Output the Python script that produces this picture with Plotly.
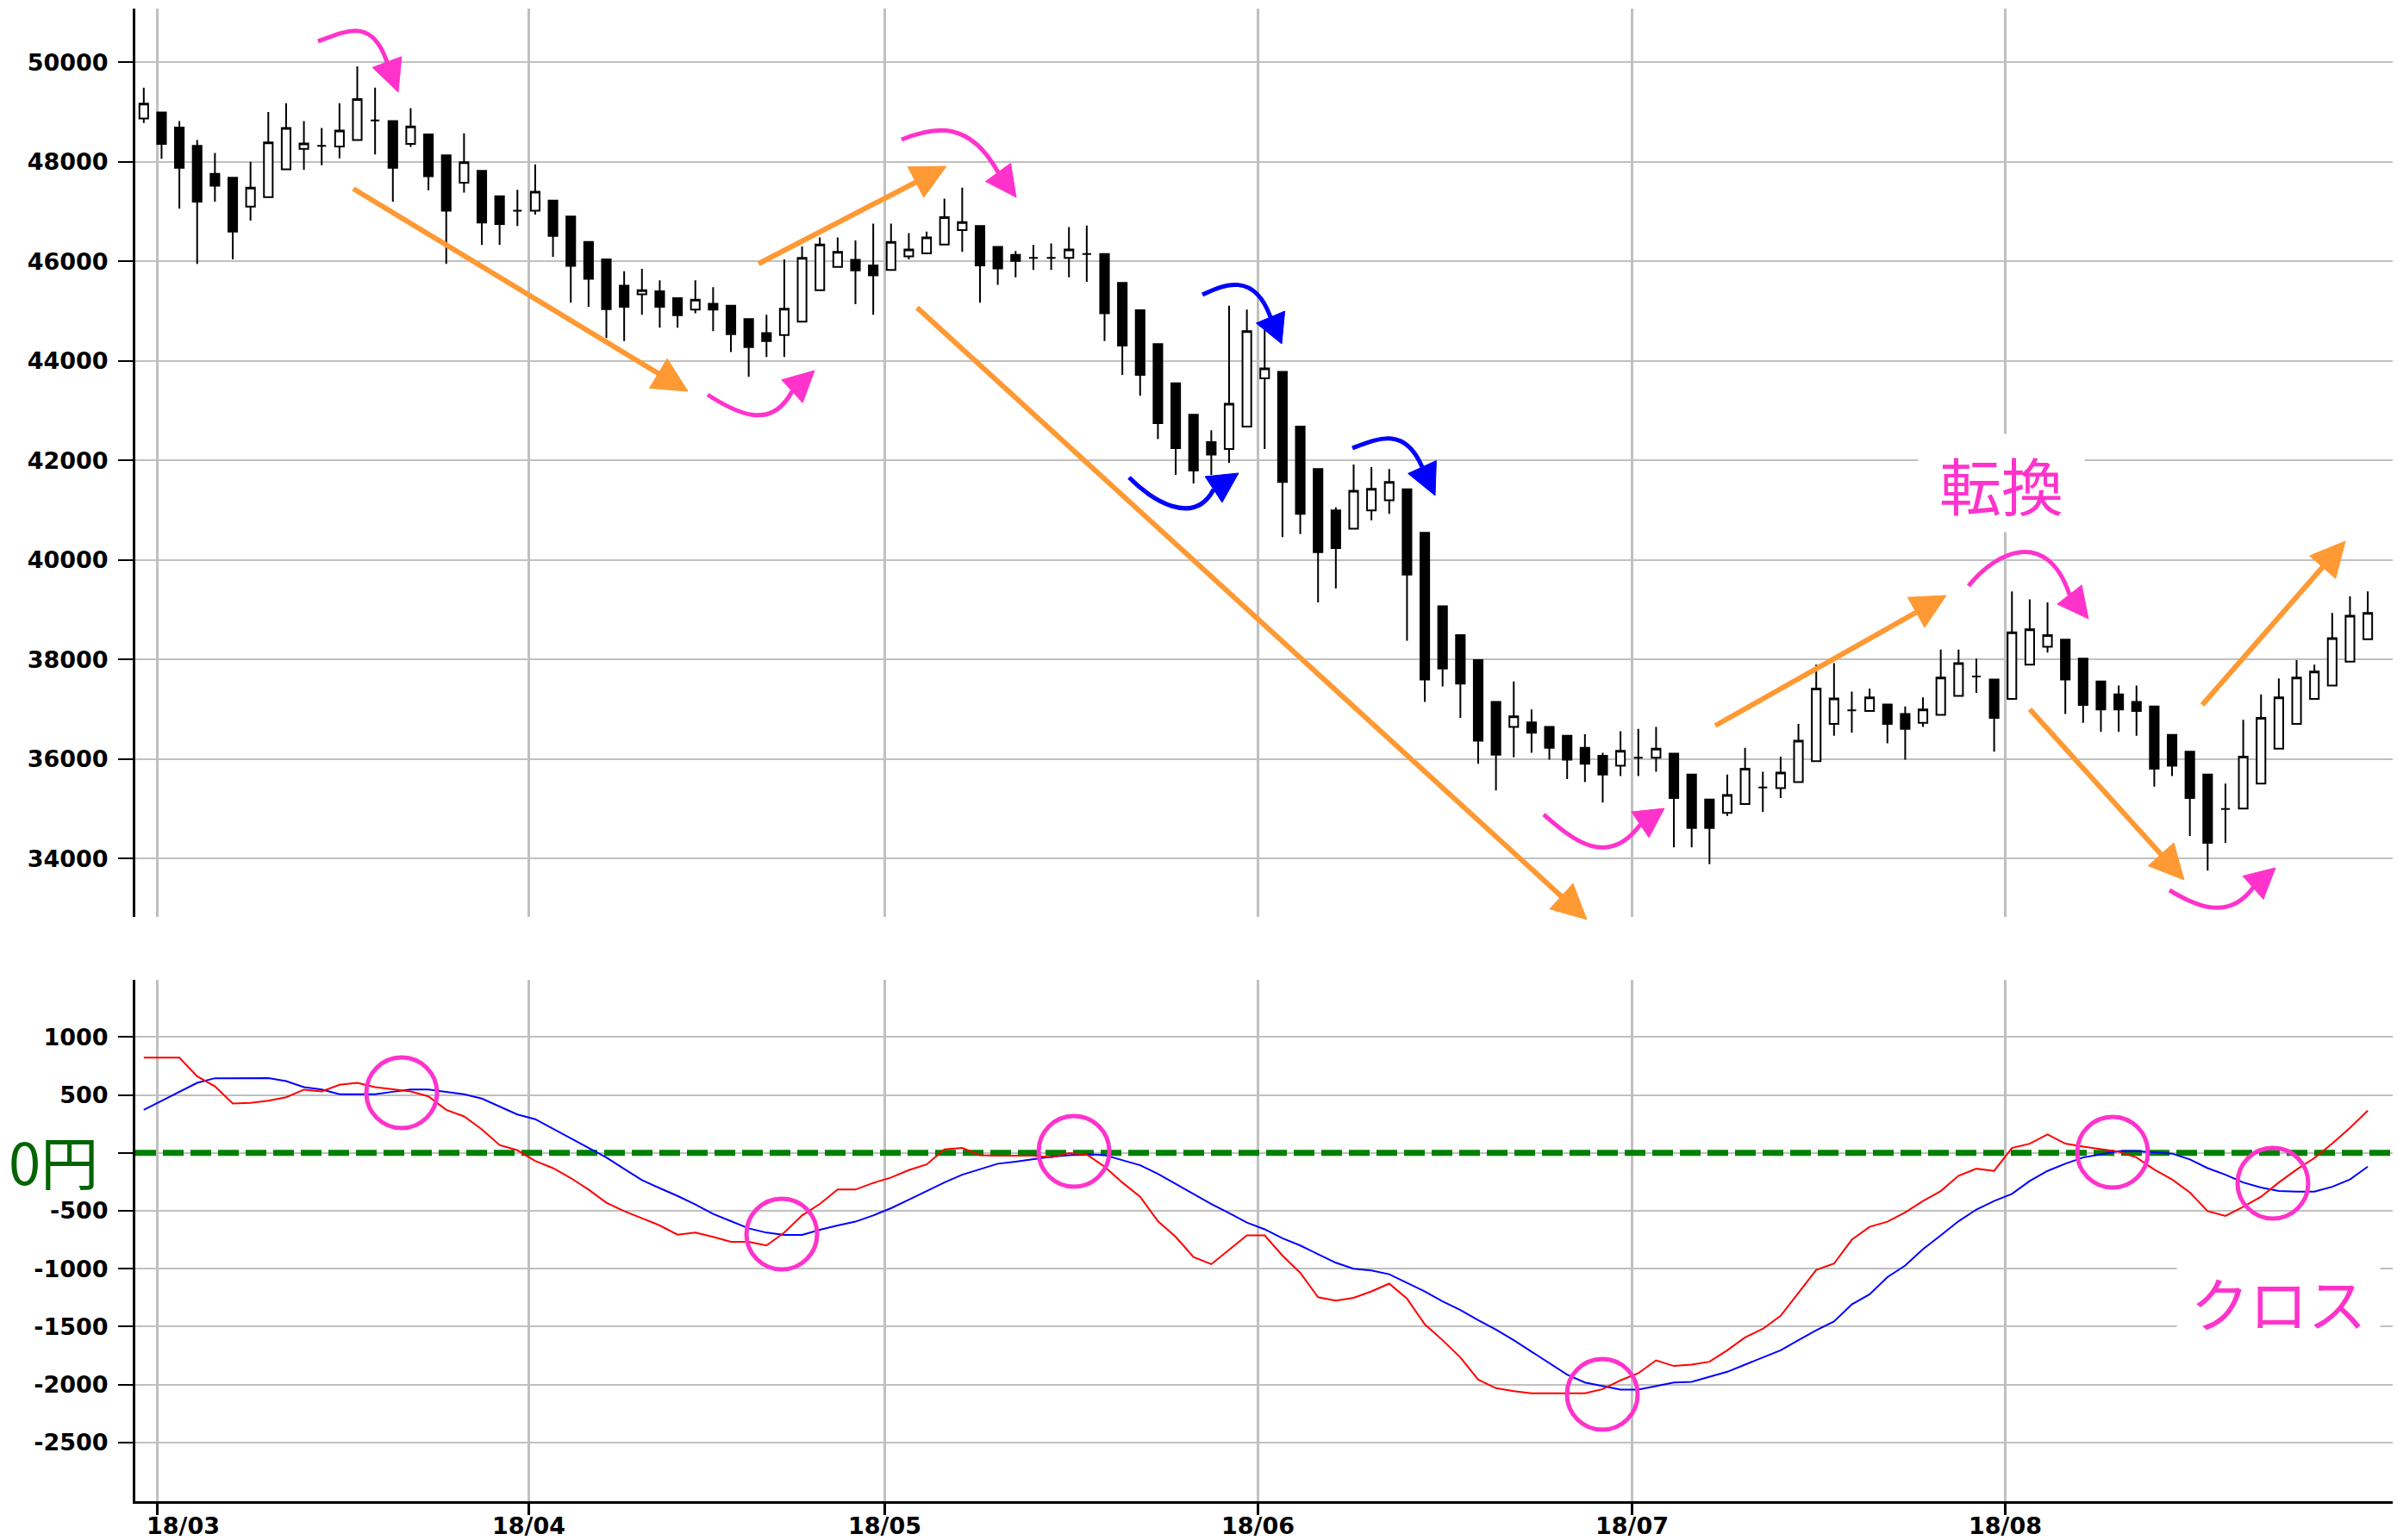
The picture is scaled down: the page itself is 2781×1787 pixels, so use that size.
import plotly.graph_objects as go

# ---------------- data ----------------
MONTH_LABELS = ["18/03", "18/04", "18/05", "18/06", "18/07", "18/08"]
MONTH_FIRST_CANDLE = [2, 23, 43, 64, 85, 106]   # index of first trading day of each month

OPEN = [48870,48990,48690,48320,47760,47680,47100,47290,47850,48260,
        48320,48310,48440,48830,48820,48360,48550,48130,47580,47820,
        47310,47020,47020,47220,46900,46390,46040,45510,45340,45400,
        45260,45030,45150,45110,44840,44560,44520,44790,45420,45890,
        46030,45920,45830,46100,46160,46340,46630,46710,46290,46130,
        46070,46070,46070,46150,46150,45570,45020,44340,43550,42920,
        42370,42230,42680,43650,43780,42680,41830,41000,40630,41000,
        41200,41420,40550,39070,38490,37990,37150,36650,36740,36650,
        36470,36230,36070,35870,36030,36030,36110,35690,35190,34920,
        35100,35430,35420,35540,35960,36710,36980,36970,37100,36910,
        36730,36890,37270,37660,37600,37210,37900,38260,38400,38020,
        37560,37300,37150,37060,36490,36150,35690,35000,35010,35510,
        36210,36710,37210,37480,37960,38410]
HIGH = [49490,48990,48820,48440,48180,47680,48000,49000,49180,48820,
        48680,49180,49920,49490,48820,49080,48550,48130,48570,47820,
        47310,47440,47950,47220,46900,46390,46040,45800,45850,45620,
        45260,45620,45480,45110,44840,44930,46040,46300,46480,46480,
        46420,46760,46760,46570,46600,47260,47480,46710,46290,46210,
        46330,46360,46690,46720,46150,45570,45020,44340,43550,42920,
        42610,45110,45030,44620,43780,42680,41830,41060,41920,41870,
        41830,41420,40550,39070,38490,37990,37150,37560,37000,36650,
        36470,36500,36130,36560,36610,36650,36110,35690,35190,35690,
        36230,35750,36050,36710,37900,37930,37360,37420,37100,37060,
        37240,38200,38200,38020,37600,39370,39210,39150,38400,38020,
        37560,37480,37480,37060,36490,36150,35690,35510,36790,37300,
        37620,37990,37900,38940,39270,39370]
LOW = [48780,48060,47060,45950,47200,46040,46820,47290,47850,47840,
       47930,48070,48440,48150,47200,48300,47430,45950,47380,46330,
       46330,46710,46940,46090,45170,45090,44460,44400,44930,44670,
       44670,44960,44600,44180,43680,44080,44080,44790,45420,45890,
       45140,44930,45830,46040,46160,46340,46190,45170,45530,45680,
       45830,45830,45680,45590,44400,43720,43300,42430,41710,41540,
       41710,41950,42680,42230,40460,40520,39150,39430,40630,40800,
       40930,38380,37150,37460,36830,35910,35370,36040,36130,35990,
       35600,35540,35130,35660,35660,35750,34230,34230,33890,34860,
       35100,34940,35220,35540,35960,36470,36530,36970,36320,35990,
       36650,36890,37270,37330,36150,37210,37900,38140,36910,36730,
       36550,36550,36470,35450,35660,34460,33760,34320,35010,35510,
       36210,36710,37210,37480,37960,38410]
CLOSE = [49170,48360,47880,47200,47520,46600,47480,48390,48680,48370,
         48320,48630,49260,48830,47880,48710,47710,47020,47990,46780,
         46750,47020,47400,46510,45910,45650,45040,45090,45420,45090,
         44920,45230,45030,44540,44280,44400,45050,46070,46340,46190,
         45820,45720,46390,46240,46480,46890,46790,45920,45860,46010,
         46070,46070,46240,46150,44960,44310,43720,42750,42250,41800,
         42120,43140,44600,43850,41570,40930,40160,40240,41390,41430,
         41570,39710,37600,37820,37520,36370,36090,36860,36530,36230,
         35990,35910,35690,36170,36030,36210,35220,34620,34620,35280,
         35810,35430,35730,36370,37420,37220,36980,37240,36710,36610,
         37000,37640,37930,37660,36830,38550,38610,38490,37600,37090,
         37000,37000,36970,35810,35870,35220,34320,35000,36050,36830,
         37240,37640,37760,38430,38880,38940]

MACD = [822,822,822,661,574,426,431,450,480,545,
        530,587,604,567,546,530,487,371,314,203,
        67,22,-70,-132,-218,-317,-431,-503,-565,-627,
        -706,-688,-726,-768,-768,-800,-688,-540,-441,-317,
        -317,-260,-213,-149,-100,30,42,-20,-25,-25,
        -25,-40,-3,-15,-119,-256,-379,-590,-726,-899,
        -961,-837,-713,-713,-887,-1036,-1246,-1276,-1251,-1196,
        -1129,-1259,-1481,-1617,-1766,-1957,-2031,-2056,-2076,-2076,
        -2076,-2076,-2039,-1964,-1902,-1791,-1840,-1828,-1803,-1704,
        -1593,-1519,-1407,-1209,-1011,-956,-750,-639,-594,-515,
        -416,-330,-198,-137,-156,42,79,158,79,54,
        30,10,-40,-144,-230,-342,-503,-545,-466,-379,
        -256,-144,-45,79,215,364]
SIGNAL = [371,450,530,604,644,645,645,645,619,567,
          546,505,505,505,527,546,546,527,505,468,
          401,331,290,208,129,42,-40,-139,-236,-305,
          -372,-446,-528,-590,-652,-689,-709,-709,-664,-627,
          -594,-540,-478,-404,-330,-256,-189,-139,-94,-77,
          -57,-33,-20,-12,-20,-62,-107,-181,-268,-354,
          -441,-520,-602,-660,-738,-800,-874,-949,-1001,-1016,
          -1048,-1122,-1196,-1283,-1357,-1444,-1526,-1617,-1716,-1816,
          -1915,-1982,-2014,-2043,-2043,-2014,-1982,-1977,-1932,-1890,
          -1828,-1766,-1704,-1617,-1531,-1456,-1308,-1221,-1073,-973,
          -832,-713,-590,-490,-416,-354,-243,-156,-94,-40,
          -15,15,15,5,-7,-57,-132,-189,-256,-300,
          -330,-335,-335,-293,-230,-119]

PRICE_TICKS = [34000, 36000, 38000, 40000, 42000, 44000, 46000, 48000, 50000]
MACD_TICKS = [1000, 500, 0, -500, -1000, -1500, -2000, -2500]
MACD_TICK_TEXT = ["1000", "500", "", "-500", "-1000", "-1500", "-2000", "-2500"]

# ---------------- geometry ----------------
W, H = 2781, 1787
ML, MR, MT, MB = 157, 5, 10, 45
PW = W - ML - MR
PH = H - MT - MB


def px(x):
    return (x - ML) / PW


def py(y):
    return (H - MB - y) / PH


def P(x, y):
    return f"{px(x):.5f},{py(y):.5f}"


idx = list(range(1, len(OPEN) + 1))
XR = [0.525, 127.4]
grid_x = [m - (0.24 if i == 0 else 0.36) for i, m in enumerate(MONTH_FIRST_CANDLE)]

GRID = "#c0c0c0"
MAG = "#ff33cc"
ORG = "#ff9933"
BLU = "#0000ff"
TICKFONT = dict(family="DejaVu Sans", size=27, color="black", weight="bold")

fig = go.Figure()

fig.add_trace(go.Candlestick(
    x=idx, open=OPEN, high=HIGH, low=LOW, close=CLOSE,
    increasing=dict(line=dict(color="black", width=2), fillcolor="white"),
    decreasing=dict(line=dict(color="black", width=2), fillcolor="black"),
    whiskerwidth=0, xaxis="x", yaxis="y", showlegend=False, hoverinfo="skip"))

fig.add_trace(go.Scatter(x=XR, y=[0, 0], mode="lines", xaxis="x2", yaxis="y2",
                         line=dict(color="#008000", width=7, dash="24px,8px"),
                         showlegend=False, hoverinfo="skip"))
fig.add_trace(go.Scatter(x=idx, y=SIGNAL, mode="lines", xaxis="x2", yaxis="y2",
                         line=dict(color=BLU, width=2), showlegend=False))
fig.add_trace(go.Scatter(x=idx, y=MACD, mode="lines", xaxis="x2", yaxis="y2",
                         line=dict(color="#ff0000", width=2), showlegend=False))

top_dom = [(H - MB - 1064) / PH, 1.0]
bot_dom = [0.0, (H - MB - 1137) / PH]

fig.update_layout(
    width=W, height=H,
    margin=dict(l=ML, r=MR, t=MT, b=MB, pad=0),
    paper_bgcolor="white", plot_bgcolor="white",
    showlegend=False,
    xaxis=dict(domain=[0, 1], anchor="y", range=XR, tickvals=grid_x,
               showticklabels=False, ticks="", showgrid=True, gridcolor=GRID,
               gridwidth=2.5, zeroline=False, showline=False,
               rangeslider=dict(visible=False), fixedrange=True),
    yaxis=dict(domain=top_dom, anchor="x", range=[32831, 51078],
               tickvals=PRICE_TICKS, ticktext=[str(v) for v in PRICE_TICKS],
               ticks="outside", ticklen=17, tickwidth=2, tickcolor="black",
               showline=True, linewidth=3, linecolor="black",
               showgrid=True, gridcolor=GRID, gridwidth=2, zeroline=False,
               tickfont=TICKFONT, ticklabelstandoff=6, fixedrange=True),
    xaxis2=dict(domain=[0, 1], anchor="y2", range=XR, tickvals=grid_x,
                showticklabels=False, ticks="outside", ticklen=13, tickwidth=2.5,
                tickcolor="black", showgrid=True, gridcolor=GRID, gridwidth=2.5,
                zeroline=False, showline=True, linewidth=3, linecolor="black",
                fixedrange=True),
    yaxis2=dict(domain=bot_dom, anchor="x2", range=[-3007, 1493],
                tickvals=MACD_TICKS, ticktext=MACD_TICK_TEXT,
                ticks="outside", ticklen=17, tickwidth=2, tickcolor="black",
                showline=True, linewidth=3, linecolor="black",
                showgrid=True, gridcolor=GRID, gridwidth=2, zeroline=False,
                tickfont=TICKFONT, ticklabelstandoff=6, fixedrange=True),
)

# month labels under the MACD panel
for i, (gx, lab) in enumerate(zip(grid_x, MONTH_LABELS)):
    fig.add_annotation(x=gx, xref="x2", y=0, yref="paper", text=lab, showarrow=False,
                       xanchor="center", yanchor="middle", yshift=-28,
                       xshift=30 if i == 0 else 0, font=TICKFONT)

# 0円 label
fig.add_annotation(x=px(62), xref="paper", y=0, yref="y2", text="0円", showarrow=False,
                   xanchor="center", yanchor="middle", yshift=-8,
                   font=dict(family="Noto Sans CJK JP", size=67, color="#006400"))

# text labels with white boxes
fig.add_annotation(x=px(2322), xref="paper", y=py(560), yref="paper", text="転換",
                   showarrow=False, xanchor="center", yanchor="middle",
                   width=190, height=111, bgcolor="white",
                   font=dict(family="Noto Sans CJK JP", size=72, color=MAG))
fig.add_annotation(x=px(2643.5), xref="paper", y=py(1510), yref="paper", text="クロス",
                   showarrow=False, xanchor="center", yanchor="middle",
                   width=233, height=120, bgcolor="white",
                   font=dict(family="Noto Sans CJK JP", size=68, color=MAG))

shapes = []


def tri(tip, base, hw, color):
    tx, ty = tip
    bx, by = base
    dx, dy = tx - bx, ty - by
    L = (dx * dx + dy * dy) ** 0.5
    nx, ny = -dy / L, dx / L
    path = (f"M{P(tx, ty)} L{P(bx + nx * hw, by + ny * hw)} "
            f"L{P(bx - nx * hw, by - ny * hw)} Z")
    shapes.append(dict(type="path", path=path, xref="paper", yref="paper",
                       fillcolor=color, line=dict(color=color, width=1), layer="above"))


def straight_arrow(tail, tip, color, width=6, hl=40, hw=20):
    tx, ty = tip
    sx, sy = tail
    dx, dy = tx - sx, ty - sy
    L = (dx * dx + dy * dy) ** 0.5
    ux, uy = dx / L, dy / L
    bx, by = tx - ux * hl, ty - uy * hl
    ex, ey = tx - ux * hl * 0.8, ty - uy * hl * 0.8
    shapes.append(dict(type="line", xref="paper", yref="paper",
                       x0=px(sx), y0=py(sy), x1=px(ex), y1=py(ey),
                       line=dict(color=color, width=width), layer="above"))
    tri(tip, (bx, by), hw, color)


def curved_arrow(p0, c1, c2, base, tip, color, width=5, hw=18):
    path = f"M{P(*p0)} C{P(*c1)} {P(*c2)} {P(*base)}"
    shapes.append(dict(type="path", path=path, xref="paper", yref="paper",
                       fillcolor="rgba(0,0,0,0)", line=dict(color=color, width=width),
                       layer="above"))
    tri(tip, base, hw, color)


# orange trend arrows
straight_arrow((410, 219), (798, 454), ORG)
straight_arrow((880, 306), (1098, 193), ORG)
straight_arrow((1064, 357), (1841, 1067), ORG)
straight_arrow((1990, 842), (2258, 691), ORG)
straight_arrow((2355, 823), (2534, 1021), ORG)
straight_arrow((2555, 818), (2721, 628), ORG)

# magenta curved arrows
curved_arrow((369, 48), (405, 34), (432, 22), (449, 72), (462, 107), MAG)
curved_arrow((821, 458), (855, 480), (895, 500), (919, 454), (945, 430), MAG)
curved_arrow((1046, 162), (1085, 146), (1125, 140), (1158, 200), (1179, 229), MAG)
curved_arrow((1791, 945), (1825, 975), (1865, 1008), (1903, 957), (1931, 938), MAG)
curved_arrow((2284, 680), (2315, 640), (2375, 612), (2401, 690), (2423, 718), MAG)
curved_arrow((2517, 1033), (2545, 1050), (2585, 1070), (2614, 1030), (2640, 1007), MAG)

# blue curved arrows
curved_arrow((1395, 342), (1420, 330), (1455, 315), (1474, 368), (1487, 399), BLU)
curved_arrow((1310, 554), (1335, 580), (1385, 612), (1408, 568), (1437, 549), BLU)
curved_arrow((1569, 520), (1600, 508), (1630, 495), (1650, 542), (1665, 575), BLU)

# crossing circles in the MACD panel
for cx, cy in [(466, 1268), (907, 1432), (1246, 1336), (1859, 1618), (2451, 1337), (2637, 1373)]:
    shapes.append(dict(type="circle", xref="paper", yref="paper",
                       x0=px(cx - 41), x1=px(cx + 41), y0=py(cy + 41), y1=py(cy - 41),
                       line=dict(color=MAG, width=5), layer="above"))

fig.update_layout(shapes=shapes)

fig.write_html("out.html",
               config={"displayModeBar": False},
               post_script="document.body.style.margin='0';"
                           "document.body.style.overflow='hidden';")
